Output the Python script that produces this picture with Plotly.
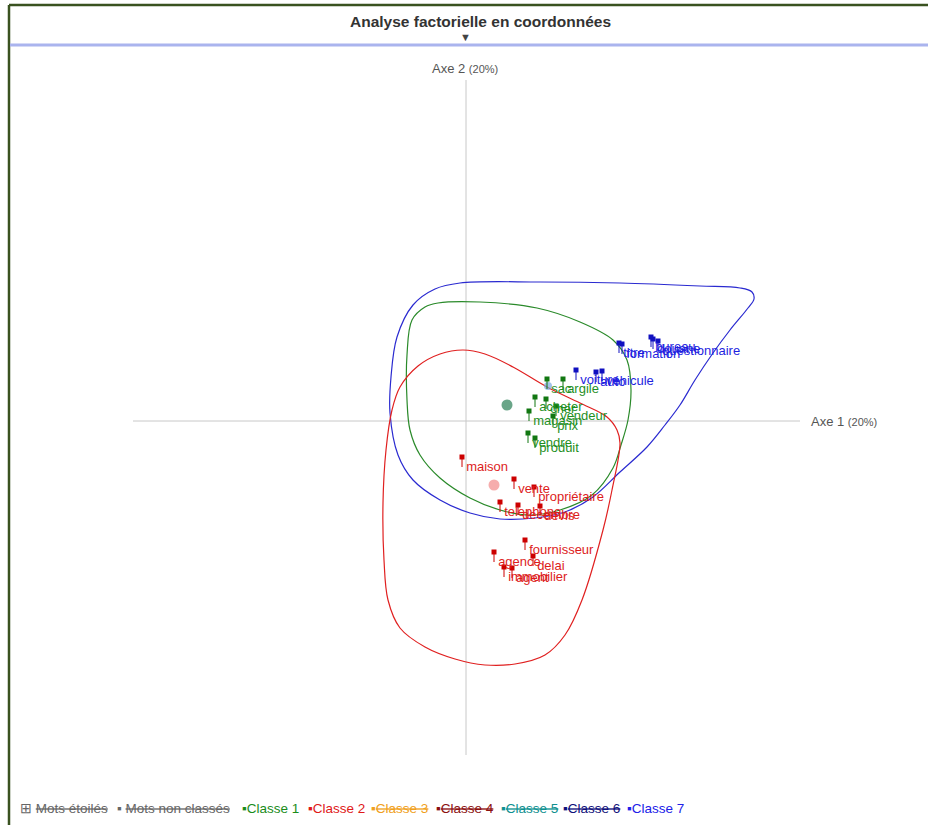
import plotly.graph_objects as go

# ---------------- data (factor coordinates, axis 1 / axis 2) ----------------
c1_words = ["sac", "argile", "acheter", "cher", "magasin", "vendeur", "prix", "vendre", "produit"]
c1_x = [0.81, 0.97, 0.69, 0.80, 0.63, 0.90, 0.87, 0.62, 0.69]
c1_y = [0.42, 0.42, 0.24, 0.22, 0.10, 0.15, 0.05, -0.12, -0.17]

c2_words = ["maison", "vente", "propriétaire", "telephone", "decembre", "devis",
            "fournisseur", "agence", "delai", "immobilier", "agent"]
c2_x = [-0.04, 0.48, 0.68, 0.34, 0.52, 0.74, 0.59, 0.28, 0.67, 0.38, 0.46]
c2_y = [-0.36, -0.58, -0.66, -0.81, -0.84, -0.85, -1.19, -1.31, -1.35, -1.46, -1.47]

c7_words = ["titre", "formation", "bureau", "douane", "questionnaire", "voiture", "auto", "véhicule"]
c7_x = [1.53, 1.56, 1.85, 1.87, 1.92, 1.10, 1.30, 1.36]
c7_y = [0.78, 0.77, 0.84, 0.82, 0.80, 0.51, 0.49, 0.50]

centroid_x = [0.41, 0.28, 0.82]
centroid_y = [0.16, -0.64, 0.35]

hull7_x = [-0.06, 0.74, 1.54, 2.34, 2.74, 2.86, 2.88, 2.82, 2.64, 2.47, 2.29, 2.14, 1.99, 1.81, 1.54,
           1.27, 0.99, 0.69, 0.34, 0.04, -0.26, -0.53, -0.68, -0.76, -0.75, -0.69, -0.53, -0.31, -0.06]
hull7_y = [1.38, 1.39, 1.38, 1.35, 1.33, 1.29, 1.22, 1.13, 0.91, 0.68, 0.41, 0.16, -0.04, -0.26, -0.51,
           -0.76, -0.91, -0.97, -0.98, -0.92, -0.79, -0.59, -0.34, 0.08, 0.44, 0.84, 1.16, 1.32, 1.38]

hull1_x = [-0.28, 0.14, 0.71, 1.14, 1.47, 1.61, 1.65, 1.62, 1.55, 1.47, 1.26, 0.94, 0.64, 0.34, 0.04,
           -0.26, -0.46, -0.56, -0.59, -0.59, -0.54, -0.41, -0.28]
hull1_y = [1.18, 1.19, 1.13, 0.99, 0.81, 0.61, 0.31, 0.01, -0.24, -0.47, -0.74, -0.89, -0.94, -0.89, -0.77,
           -0.57, -0.34, -0.09, 0.21, 0.66, 1.01, 1.14, 1.18]

hull2_x = [-0.03, 0.19, 0.47, 0.81, 1.14, 1.41, 1.51, 1.54, 1.46, 1.37, 1.16, 0.99, 0.79, 0.49, 0.19,
           -0.11, -0.41, -0.66, -0.78, -0.82, -0.83, -0.80, -0.74, -0.66, -0.48, -0.26, -0.03]
hull2_y = [0.71, 0.67, 0.54, 0.34, 0.18, 0.04, -0.09, -0.22, -0.69, -1.09, -1.79, -2.14, -2.34, -2.43, -2.44,
           -2.38, -2.26, -2.07, -1.79, -1.39, -0.82, -0.29, 0.11, 0.34, 0.55, 0.67, 0.71]

legend_items = ["Mots étoilés", "Mots non classés", "Classe 1", "Classe 2", "Classe 3",
                "Classe 4", "Classe 5", "Classe 6", "Classe 7"]
legend_colors = ["#666666", "#666666", "#1a8c1a", "#e01818", "#f0a020",
                 "#8b1010", "#109090", "#10107a", "#2020e8"]
legend_struck = [True, True, False, False, True, True, True, True, False]
legend_symbols = ["⊞", "▪", "▪", "▪", "▪", "▪", "▪", "▪", "▪"]
legend_left_px = [18, 115, 240, 306, 369, 434, 499, 561, 625]

FONT = "Liberation Sans, Arial, sans-serif"

fig = go.Figure()

# hulls
for hx, hy, col in [(hull7_x, hull7_y, "#2a2ad0"), (hull1_x, hull1_y, "#2a8a2a"), (hull2_x, hull2_y, "#e02020")]:
    fig.add_trace(go.Scatter(x=hx, y=hy, mode="lines", line=dict(color=col, width=1.2, shape="spline", smoothing=1.0),
                             hoverinfo="skip", showlegend=False))

# centroids
fig.add_trace(go.Scatter(x=centroid_x, y=centroid_y, mode="markers",
                         marker=dict(size=[11, 11, 8], color=["#2a7f55", "#f28a8a", "#7aa8e0"], line=dict(width=0)),
                         showlegend=False, hoverinfo="skip"))

# words
for xs, ys, words, mcol, tcol in [(c1_x, c1_y, c1_words, "#117711", "#1f8f1f"),
                                  (c2_x, c2_y, c2_words, "#cc0000", "#dd1c1c"),
                                  (c7_x, c7_y, c7_words, "#1010c0", "#1f1fe0")]:
    n = len(xs)
    fig.add_trace(go.Scatter(x=xs, y=ys, mode="markers+text", text=words, textposition="bottom right",
                             textfont=dict(family=FONT, size=13, color=tcol),
                             marker=dict(symbol="square", size=5, color=mcol),
                             error_y=dict(type="data", symmetric=False, array=[0] * n, arrayminus=[0.1] * n,
                                          width=0, thickness=1, color=mcol),
                             showlegend=False, hoverinfo="text"))

shapes = [
    # factor axes
    dict(type="line", xref="x", yref="y", x0=-3.33, x1=3.34, y0=0, y1=0, line=dict(color="#c8c8c8", width=1),
         layer="below"),
    dict(type="line", xref="x", yref="y", x0=0, x1=0, y0=-3.34, y1=3.41, line=dict(color="#c8c8c8", width=1),
         layer="below"),
    # frame
    dict(type="line", xref="paper", yref="paper", x0=9/928, x1=1, y0=1-5/825, y1=1-5/825,
         line=dict(color="#3a5220", width=2.5)),
    dict(type="line", xref="paper", yref="paper", x0=9/928, x1=9/928, y0=0, y1=1-5/825,
         line=dict(color="#3a5220", width=2.5)),
    dict(type="line", xref="paper", yref="paper", x0=10/928, x1=1, y0=1-45/825, y1=1-45/825,
         line=dict(color="#aab4ee", width=3)),
]

annotations = [
    dict(text="<b>Analyse factorielle en coordonnées</b>", xref="paper", yref="paper", x=480/928, y=1-22/825,
         showarrow=False, font=dict(family=FONT, size=15.5, color="#333333"), xanchor="center", yanchor="middle"),
    dict(text="▼", xref="paper", yref="paper", x=465/928, y=1-37/825, showarrow=False,
         font=dict(family=FONT, size=11, color="#444444"), xanchor="center", yanchor="middle"),
    dict(text="Axe 2 <span style='font-size:11px'>(20%)</span>", xref="x", yref="y", x=-0.01, y=3.53,
         showarrow=False, font=dict(family=FONT, size=13, color="#555555"), xanchor="center", yanchor="middle"),
    dict(text="Axe 1 <span style='font-size:11px'>(20%)</span>", xref="x", yref="y", x=3.43, y=0,
         showarrow=False, font=dict(family=FONT, size=13, color="#555555"), xanchor="left", yanchor="middle"),
]
for name, col, struck, sym, left in zip(legend_items, legend_colors, legend_struck, legend_symbols, legend_left_px):
    label = f"<s>{name}</s>" if struck else name
    gap = "&nbsp;" if name.startswith("Mots") else ""
    annotations.append(dict(text=f"{sym}{gap}{label}",
                            xref="paper", yref="paper", x=left/928, y=1-808/825, showarrow=False,
                            font=dict(family=FONT, size=13.5, color=col), xanchor="left", yanchor="middle"))

fig.update_layout(
    width=928, height=825, autosize=False,
    margin=dict(l=0, r=0, t=0, b=0, pad=0),
    paper_bgcolor="white", plot_bgcolor="white",
    xaxis=dict(range=[-4.66, 4.62], visible=False, fixedrange=True),
    yaxis=dict(range=[-4.04, 4.21], visible=False, fixedrange=True),
    shapes=shapes, annotations=annotations, showlegend=False,
)

fig.write_html("out.html", config={"displayModeBar": False},
               post_script="document.body.style.margin='0';document.body.style.overflow='hidden';")
